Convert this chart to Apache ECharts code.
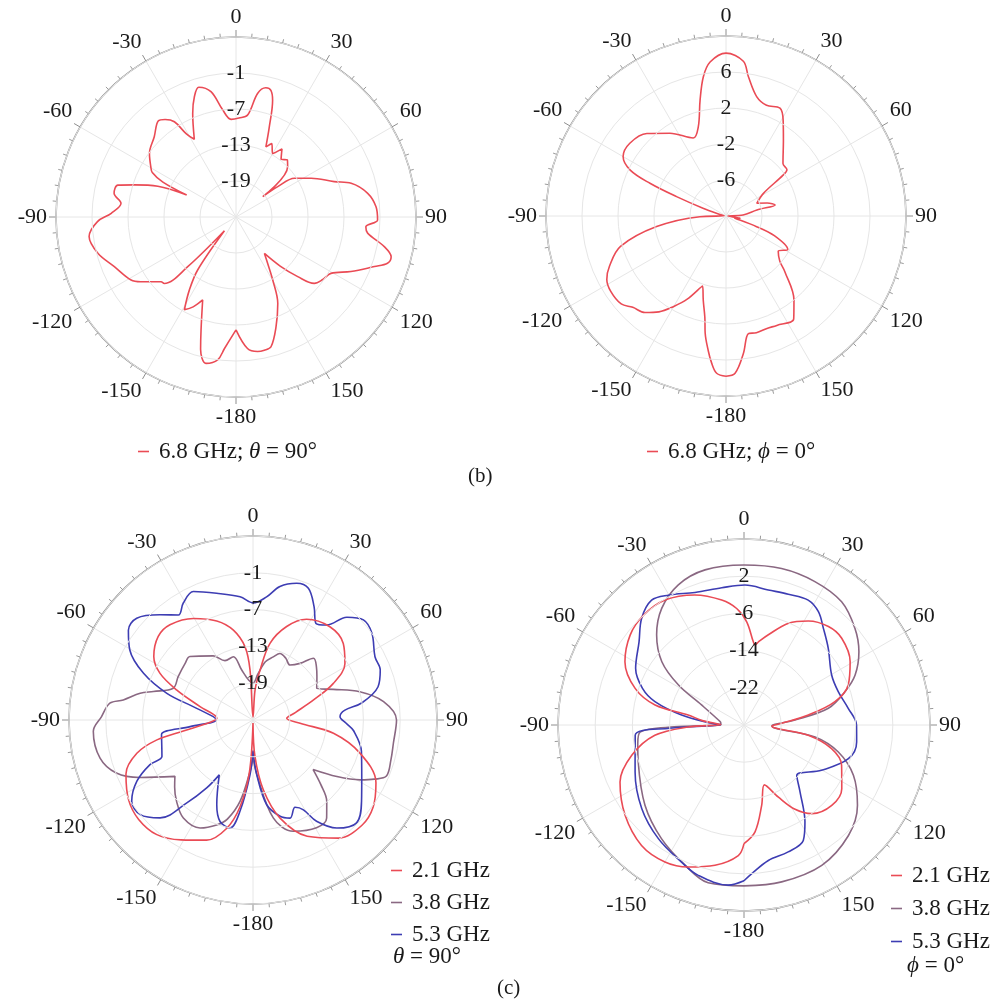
<!DOCTYPE html>
<html>
<head>
<meta charset="utf-8">
<title>Radiation patterns</title>
<script src="https://cdn.jsdelivr.net/npm/echarts@6/dist/echarts.min.js"></script>
<style>
  html, body { margin: 0; padding: 0; background: #fff; }
  #chart { width: 993px; height: 1001px; }
</style>
</head>
<body>
<div id="chart"></div>
<script>
// angle labels around every plot, index = value / 30
var angleLabels = ['0', '30', '60', '90', '120', '150', '-180', '-150', '-120', '-90', '-60', '-30', '']

// ring labels shown on the radius axis of each plot (dB)
var ringsB1 = [-1, -7, -13, -19]
var ringsB2 = [6, 2, -2, -6]
var ringsC1 = [-1, -7, -13, -19]
var ringsC2 = [2, -6, -14, -22]

// (b) left: 6.8 GHz, theta = 90
var b1Angle = [-180, -175, -172.7, -168.4, -165, -162.8, -158.1, -154.5, -150.9, -147.5, -144.1, -140, -135.8, -132.8, -130.8, -124.2, -121, -112.2, -104.7, -97.6, -91.9, -88.3, -83.2, -79, -74.9, -72.5, -68.5, -66, -64.5, -62, -59.4, -53.7, -45.5, -39, -36, -32.9, -30.9, -28.2, -22.7, -19.1, -16, -11.3, -7.1, -2.9, 1.7, 6.5, 9.9, 13, 15.4, 17.4, 20.3, 23.1, 26, 30, 34, 38, 42, 45.8, 52.8, 54, 56.5, 62.7, 70.2, 73.7, 79.8, 85.8, 91.2, 94.3, 97, 101.3, 104.4, 107, 109.7, 115.4, 120.7, 126, 130.3, 134, 138, 142, 145.6, 149.8, 154.2, 160, 164.9, 168, 170.9, 175, 180]
var b1Gain = [-6.2, -3.0, -1.0, -0.1, -2.2, -5.3, -10.1, -8.4, -7.3, -10.5, -14.1, -22, -13.4, -8.7, -8.5, -5.8, -4.6, -3.1, -1.2, -0.3, -1.9, -4.2, -5.7, -4.3, -4.6, -7.2, -11, -16, -11.5, -9.2, -8.5, -7.1, -5.9, -4.4, -4.9, -6.1, -8.8, -10.3, -6.3, -3.8, -2.5, -3.7, -7.0, -8.7, -8.5, -7.9, -4.1, -2.9, -3.1, -4.6, -9.0, -12.3, -11.4, -12.8, -11.3, -12.8, -12.2, -13.0, -19.4, -16.4, -13.3, -10.9, -7.6, -5.0, -2.7, -1.6, -1.4, -3.3, -2.9, 0.2, 1.7, 1.4, -0.5, -3.8, -6.6, -7.2, -7.9, -10.7, -14, -17.3, -15.7, -12.8, -9.0, -5.5, -2.6, -2.3, -2.3, -3.0, -6.2]

// (b) right: 6.8 GHz, phi = 0
var b2Angle = [-180, -176.6, -174.4, -172.5, -169.9, -168.2, -164.9, -161.5, -155, -150, -145, -140, -134.4, -130, -123.3, -118, -113.3, -106.1, -98.7, -91.5, -84, -76, -71.3, -68.6, -66.7, -64.4, -60, -52.9, -43.8, -34.1, -22.8, -17.2, -12.6, -9.2, -5.9, 0, 6.4, 9.1, 14.4, 20.1, 26.6, 30.8, 37, 47.4, 52.8, 54.4, 58.7, 67.6, 72.5, 77.3, 78.9, 86.7, 92, 98.5, 104, 109.2, 112.2, 118.4, 124, 130, 133.4, 141, 146.7, 155.1, 160, 165.4, 169.2, 172.8, 176.7, 180]
var b2Gain = [7.8, 7.5, 6.4, 5.1, 3.2, 1.5, -0.3, -1.8, 0.2, 1.6, 3.0, 4.0, 4.5, 5.2, 5.3, 5.0, 4.1, 2.2, -2.2, -7.1, -9.8, -9.3, -7.3, -4.1, -0.8, 1.8, 3.2, 3.4, 2.7, 1.1, -0.6, 0.4, 3.2, 5.7, 7.2, 8.1, 7.3, 5.7, 3.7, 3.1, 3.4, 2.4, 0.6, -1.4, -1.5, -2.2, -5.1, -6.3, -5.2, -4.4, -6.5, -8.1, -9.8, -8.4, -9.0, -6.4, -4.2, -2.2, -3.0, -2.2, -1.0, 2.0, 3.7, 3.4, 3.3, 3.4, 3.3, 5.4, 7.5, 7.8]

// (c) left: theta = 90
var c1Angle21 = [-180, -176, -171.5, -166.3, -158.9, -149, -140, -131, -122.7, -113, -106, -101.7, -99, -93, -87.4, -75.9, -68.5, -63.3, -57.4, -48.6, -41.1, -30.4, -20.1, -12.3, -6.2, -3.4, 0, 4, 8, 12.5, 19.8, 28, 39.5, 49.7, 58.4, 65.5, 71.7, 80, 87.2, 94, 99.4, 107.3, 117, 126, 134, 144, 155, 164.6, 171.6, 176.9, 180]
var c1Gain21 = [-24.5, -16.3, -10.7, -6.8, -4.0, -2.2, -0.6, -0.3, -0.9, -2.5, -5.3, -9.0, -13.5, -18, -19.1, -16.1, -11.6, -8.0, -5.8, -4.4, -4.4, -5.8, -7.8, -10, -13, -16.8, -24.5, -20, -16.8, -12.2, -8.8, -6.4, -5.3, -5.7, -7.4, -10.6, -14.6, -18, -19.5, -17.3, -11.7, -6.7, -2.5, -0.8, -0.3, -1.2, -4.1, -8.4, -13.5, -19, -24.5]
var c1Angle38 = [-180, -176.7, -171, -165.5, -160.9, -153.9, -144.6, -136.8, -130.5, -125.8, -116.9, -111.2, -104, -94, -88.7, -83.3, -81.2, -76.7, -74, -68.3, -59.9, -50.2, -44.8, -31.8, -25.3, -17.2, -12.8, -6, 0, 6, 12, 17.8, 22, 28, 33.9, 39.7, 44.4, 50, 55.8, 63.6, 69.1, 75.2, 82, 90, 99.4, 106, 112.8, 116, 119.2, 124, 129.5, 133.5, 137.8, 143.1, 149.5, 160.1, 168.3, 176, 180]
var c1Gain38 = [-19, -16.6, -11.6, -8.3, -6.9, -5.4, -5.4, -6.8, -8.2, -9.3, -4.3, -1.1, 0.7, 1.1, -0.3, -1.5, -3.6, -6.1, -8.1, -11, -10.9, -10.6, -10.4, -12.7, -14.3, -14.2, -16.6, -18.5, -19, -17.5, -15.3, -14.2, -13.3, -13.6, -14.2, -13, -10.9, -11.5, -12.4, -13.4, -11, -7, -3.5, -1.6, -1.8, -1.6, -1.4, -3.0, -5.0, -8.5, -12.3, -9.8, -7.1, -5.0, -4.6, -5.7, -8.7, -16.1, -19]
var c1Angle53 = [-180, -176.9, -171.9, -168, -162, -156.8, -148.4, -145.7, -141.4, -136.5, -130, -123.8, -117.8, -113.4, -111.9, -106.4, -99, -96, -90, -85.2, -77.4, -72.8, -66.9, -60.4, -54.2, -48.8, -41.5, -35.4, -30.8, -24.9, -16, -6, 0.2, 6.3, 11.4, 17.7, 22.8, 28.3, 33.1, 37.8, 42.4, 47.8, 53.9, 62.6, 68.5, 75.1, 81, 84, 87.8, 92, 96.1, 106.1, 118.1, 126.8, 134.8, 142.2, 147.9, 150.7, 154.3, 159.3, 164.3, 170.8, 176, 180]
var c1Gain53 = [-20, -16.1, -10, -7.0, -7.6, -10, -14.5, -11.6, -7.7, -3.0, -1.0, -1.2, -3.6, -6.7, -9.0, -9.5, -9.9, -14.7, -19, -18.5, -15, -10.3, -5.6, -1.9, 0.05, 0.2, -2.1, -4.0, -2.8, -1.9, -3.5, -4.8, -5.9, -4.8, -2.8, -1.6, -1.7, -4.0, -6.2, -5.4, -2.3, -0.7, -1.0, -2.6, -2.7, -3.9, -7.0, -10, -10.8, -9.8, -8.5, -6.6, -4.9, -2.9, -1.2, -2.7, -5.5, -8.2, -9.2, -7.9, -8.7, -11, -16, -20]

// (c) right: phi = 0
var c2Angle21 = [-180, -177.5, -168.3, -158.6, -150, -139.6, -127.2, -114.7, -105.1, -96.6, -92, -89, -84, -79.8, -77.3, -71.4, -62, -51.7, -42.5, -32.3, -20.7, -10.1, -3.6, 1.5, 6.4, 7.8, 10, 15.1, 23.6, 31.7, 40.6, 48.4, 59.1, 69, 75.6, 81.2, 87.5, 92, 99.1, 105.1, 112.4, 123.1, 132.5, 142.6, 148.8, 154.5, 161.2, 167.6, 174.1, 180]
var c2Gain21 = [-4.5, -1.9, 0.8, 2.8, 4.0, 4.0, 2.1, -0.65, -5.0, -10.7, -18, -25, -21, -17.8, -10.4, -5.3, -1.0, 1.2, 2.0, 1.8, -0.1, -2.7, -4.9, -7.8, -12, -12.6, -11.8, -9.9, -6.1, -3.7, -2.1, -1.9, -3.4, -6.0, -9.8, -16, -21.9, -24, -16, -10.5, -7.3, -4.9, -4.4, -6.0, -8.8, -12.8, -16.4, -12.3, -6.9, -4.5]
var c2Angle38 = [-180, -167.2, -157.2, -144, -129, -109.3, -100, -93.9, -91.5, -89.5, -85, -79, -64.7, -58.6, -52.4, -44.1, -35.2, -25.1, -14.1, 0, 13.5, 26.3, 38.4, 48.9, 57.5, 65.8, 71.7, 78.8, 84.4, 88.8, 92, 99.6, 106, 114.7, 125.3, 136.6, 151, 166.5, 180]
var c2Gain38 = [4.6, 4.8, 2.7, 0.2, -2.6, -5.9, -6.8, -7.6, -15, -25, -25, -24.4, -19.9, -13.5, -7.7, -3.0, 0.7, 3.3, 4.4, 4.4, 4.6, 4.4, 3.8, 1.65, -0.7, -3.8, -7.1, -11.5, -19, -23.3, -24, -14.5, -8.9, -4.1, -0.1, 2.7, 4.5, 4.7, 4.6]
var c2Angle53 = [-180, -174.4, -163.1, -155.5, -143, -129.3, -113.3, -95.4, -92.5, -89.5, -87, -80.9, -75.3, -70.2, -62.4, -51.6, -43.8, -36.5, -30.2, -20.3, -9.2, 0.4, 10.2, 18.7, 27.2, 33.3, 39.4, 47.7, 60.3, 70.5, 80.9, 90, 98.6, 107.9, 120.3, 133.7, 140.1, 147.8, 152.8, 160.8, 169.8, 177, 180]
var c2Gain53 = [3.5, 4.6, 3.8, 2.4, 0.6, -1.6, -4.5, -6.5, -14, -25, -23, -16.4, -10.2, -6.8, -3.7, -1.2, 1.8, 3.4, 2.3, 0.4, -0.1, 0.1, -0.5, -0.3, 0.2, -0.85, -3.1, -5.5, -8.3, -8.5, -7.3, -5.8, -5.5, -6.4, -10.7, -14.3, -11.2, -5.4, -2.1, -1.1, -0.4, 2.0, 3.5]

var RED = '#ea4b55'
var MAUVE = '#8a6882'
var BLUE = '#3d3db3'
var FONT = 'Liberation Serif'

// [radius, angle] pairs, angle moved to 0..360 for the axis
function toPolar(angles, gains) {
  return angles.map(function(a, i) {
    return [gains[i], a < 0 ? a + 360 : a]
  })
}

function lineSeries(name, polarIndex, angles, gains, color) {
  return {
    name: name,
    type: 'line',
    coordinateSystem: 'polar',
    polarIndex: polarIndex,
    data: toPolar(angles, gains),
    symbol: 'none',
    smooth: 0.35,
    lineStyle: { color: color, width: 1.6 },
    itemStyle: { color: color }
  }
}

var plots = [
  { center: [236, 217], radius: 180, min: -25, max: 5, step: 6, rings: ringsB1 },
  { center: [726, 216], radius: 180, min: -10, max: 10, step: 4, rings: ringsB2 },
  { center: [253, 720], radius: 184, min: -25, max: 5, step: 6, rings: ringsC1 },
  { center: [744, 725], radius: 186, min: -30, max: 10, step: 8, rings: ringsC2 }
]

var polar = []
var angleAxis = []
var radiusAxis = []
plots.forEach(function(p, i) {
  polar.push({ center: p.center, radius: p.radius })
  angleAxis.push({
    polarIndex: i,
    type: 'value',
    min: 0,
    max: 360,
    interval: 30,
    startAngle: 90,
    clockwise: true,
    axisLine: { lineStyle: { color: '#8e8e8e', width: 1.5 } },
    axisTick: { show: true, length: 7, lineStyle: { color: '#8e8e8e' } },
    minorTick: { show: true, splitNumber: 6, length: 4, lineStyle: { color: '#9a9a9a' } },
    splitLine: { lineStyle: { color: '#e6e6e6', width: 1 } },
    axisLabel: {
      margin: 9,
      fontFamily: FONT,
      fontSize: 22,
      color: '#1a1a1a',
      formatter: function(v) { return angleLabels[Math.round(v / 30)] }
    }
  })
  radiusAxis.push({
    polarIndex: i,
    type: 'value',
    min: p.min,
    max: p.max,
    interval: p.step,
    axisLine: { show: false },
    axisTick: { show: false },
    splitLine: { lineStyle: { color: '#e6e6e6', width: 1 } },
    axisLabel: {
      margin: 0,
      align: 'center',
      verticalAlign: 'middle',
      padding: [0, 0, 10, 0],
      fontFamily: FONT,
      fontSize: 22,
      color: '#1a1a1a',
      formatter: function(v) { return p.rings.indexOf(v) >= 0 ? String(v) : '' }
    },
    z: 5
  })
})

var legendText = { fontFamily: FONT, fontSize: 23, color: '#1a1a1a', padding: [0, 0, 0, 5] }
var rich = {
  i: { fontFamily: FONT, fontSize: 23, fontStyle: 'italic', color: '#1a1a1a' }
}
// short dash as the legend key, like the original
var legendKey = { icon: 'rect', itemWidth: 11, itemHeight: 1.6 }

var option = {
  animation: false,
  backgroundColor: '#fff',
  polar: polar,
  angleAxis: angleAxis,
  radiusAxis: radiusAxis,
  legend: [
    Object.assign({
      left: 133, top: 435, data: ['b1'],
      textStyle: Object.assign({ rich: rich }, legendText),
      formatter: function() { return '6.8 GHz; {i|θ} = 90°' }
    }, legendKey),
    Object.assign({
      left: 642, top: 435, data: ['b2'],
      textStyle: Object.assign({ rich: rich }, legendText),
      formatter: function() { return '6.8 GHz; {i|ϕ} = 0°' }
    }, legendKey),
    Object.assign({
      left: 386, top: 854, orient: 'vertical', itemGap: 9,
      data: ['2.1 GHz', '3.8 GHz', '5.3 GHz'], textStyle: legendText
    }, legendKey),
    Object.assign({
      left: 886, top: 859, orient: 'vertical', itemGap: 10,
      data: ['2.1 GHz', '3.8 GHz', '5.3 GHz'], textStyle: legendText
    }, legendKey)
  ],
  graphic: [
    { type: 'text', left: 393, top: 945, style: { text: '{i|θ} = 90°', font: '23px ' + FONT, fill: '#1a1a1a', rich: rich } },
    { type: 'text', left: 907, top: 954, style: { text: '{i|ϕ} = 0°', font: '23px ' + FONT, fill: '#1a1a1a', rich: rich } },
    { type: 'text', left: 468, top: 466, style: { text: '(b)', font: '21px ' + FONT, fill: '#1a1a1a' } },
    { type: 'text', left: 497, top: 978, style: { text: '(c)', font: '21px ' + FONT, fill: '#1a1a1a' } }
  ],
  series: [
    lineSeries('b1', 0, b1Angle, b1Gain, RED),
    lineSeries('b2', 1, b2Angle, b2Gain, RED),
    lineSeries('3.8 GHz', 2, c1Angle38, c1Gain38, MAUVE),
    lineSeries('5.3 GHz', 2, c1Angle53, c1Gain53, BLUE),
    lineSeries('2.1 GHz', 2, c1Angle21, c1Gain21, RED),
    lineSeries('3.8 GHz', 3, c2Angle38, c2Gain38, MAUVE),
    lineSeries('5.3 GHz', 3, c2Angle53, c2Gain53, BLUE),
    lineSeries('2.1 GHz', 3, c2Angle21, c2Gain21, RED)
  ]
}

var chart = echarts.init(document.getElementById('chart'))
chart.setOption(option)
</script>
</body>
</html>
